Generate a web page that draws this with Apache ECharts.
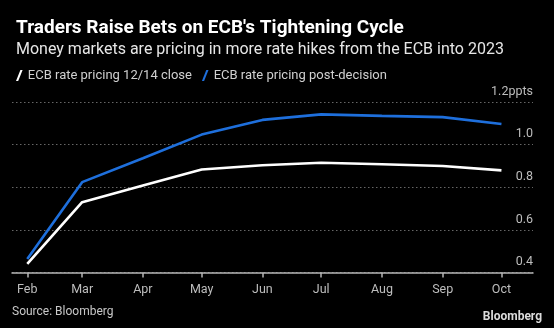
<!DOCTYPE html>
<html>
<head>
<meta charset="utf-8">
<script src="https://cdn.jsdelivr.net/npm/echarts@6/dist/echarts.min.js"></script>
<style>
html,body{margin:0;padding:0;background:#000;}
#chart{width:554px;height:328px;}
</style>
</head>
<body>
<div id="chart"></div>
<script>
// ---- data ----
const dates = ['2023-02-01','2023-03-01','2023-04-01','2023-05-01','2023-06-01','2023-07-01','2023-08-01','2023-09-01','2023-10-01'];
const monthLabels = ['Feb','Mar','Apr','May','Jun','Jul','Aug','Sep','Oct'];
const closeSeries = [0.441, 0.730, 0.808, 0.883, 0.903, 0.915, 0.908, 0.900, 0.879];
const postSeries  = [0.463, 0.824, 0.936, 1.047, 1.116, 1.142, 1.135, 1.129, 1.097];
const seriesNames = ['ECB rate pricing 12/14 close', 'ECB rate pricing post-decision'];
const yTicks = [0.4, 0.6, 0.8, 1.0, 1.2];

// day offsets from 2023-01-01 (x axis is a linear day scale)
const DAY = 86400000;
const base = Date.UTC(2023, 0, 1);
const toDay = s => (Date.UTC(+s.slice(0,4), +s.slice(5,7) - 1, +s.slice(8,10)) - base) / DAY;
const tickDays = dates.map(toDay);

const chart = echarts.init(document.getElementById('chart'));
const font = 'Roboto';
const slash = 'path://M0,10 L2,10 L6,0 L4,0 Z';

chart.setOption({
  backgroundColor: '#000',
  animation: false,
  textStyle: { fontFamily: font },
  title: [
    { text: "Traders Raise Bets on ECB's Tightening Cycle", left: 11, top: 14,
      textStyle: { color: '#fff', fontSize: 19, fontWeight: 'bold', fontFamily: font } },
    { text: 'Money markets are pricing in more rate hikes from the ECB into 2023', left: 11, top: 37,
      textStyle: { color: '#e6e6e6', fontSize: 16, fontWeight: 'normal', fontFamily: font } }
  ],
  legend: {
    left: 11, top: 64, itemWidth: 7, itemHeight: 11, itemGap: 10,
    textStyle: { color: '#d0d0d0', fontSize: 13, fontFamily: font },
    data: [
      { name: seriesNames[0], icon: slash, itemStyle: { color: '#fff' } },
      { name: seriesNames[1], icon: slash, itemStyle: { color: '#1e6fdc' } }
    ]
  },
  grid: { left: 12, right: 21, top: 102, bottom: 55.5 },
  xAxis: {
    type: 'value',
    min: tickDays[0] - 7.8,
    max: tickDays[tickDays.length - 1] + 16.1,
    splitLine: { show: false },
    axisLine: { show: true, onZero: false, lineStyle: { color: '#b5b5b5', width: 1.5 } },
    axisTick: { show: true, length: 5, customValues: tickDays, lineStyle: { color: '#b5b5b5', width: 1.5 } },
    axisLabel: {
      customValues: tickDays, color: '#bdbdbd', fontSize: 12.5, fontFamily: font, margin: 11,
      formatter: v => { const i = tickDays.indexOf(v); return i >= 0 ? monthLabels[i] : ''; }
    }
  },
  yAxis: {
    type: 'value', position: 'right', min: 0.4, max: 1.2, interval: 0.2,
    axisLine: { show: false }, axisTick: { show: false },
    splitLine: { show: true, lineStyle: { color: '#666', type: [1.5, 2.5], width: 1 } },
    axisLabel: {
      inside: true, color: '#bdbdbd', fontSize: 12.5, fontFamily: font,
      verticalAlign: 'bottom', margin: 0, padding: [0, 0, 4, 0],
      formatter: v => {
        const t = yTicks.find(x => Math.abs(x - v) < 1e-6);
        if (t === undefined) return '';
        return t === 1.2 ? '1.2ppts' : t.toFixed(1);
      }
    }
  },
  series: [
    { name: seriesNames[0], type: 'line', symbol: 'none', color: '#fff',
      lineStyle: { color: '#fff', width: 2.6 },
      data: tickDays.map((t, i) => [t, closeSeries[i]]) },
    { name: seriesNames[1], type: 'line', symbol: 'none', color: '#1e6fdc',
      lineStyle: { color: '#1e6fdc', width: 2.6 },
      data: tickDays.map((t, i) => [t, postSeries[i]]) }
  ],
  graphic: [
    { type: 'text', left: 12, top: 306,
      style: { text: 'Source: Bloomberg', fill: '#c8c8c8', fontSize: 12, fontFamily: font } },
    { type: 'text', right: 12, top: 311,
      style: { text: 'Bloomberg', fill: '#dcdcdc', fontSize: 12, fontWeight: 'bold', fontFamily: font } }
  ]
});
</script>
</body>
</html>
